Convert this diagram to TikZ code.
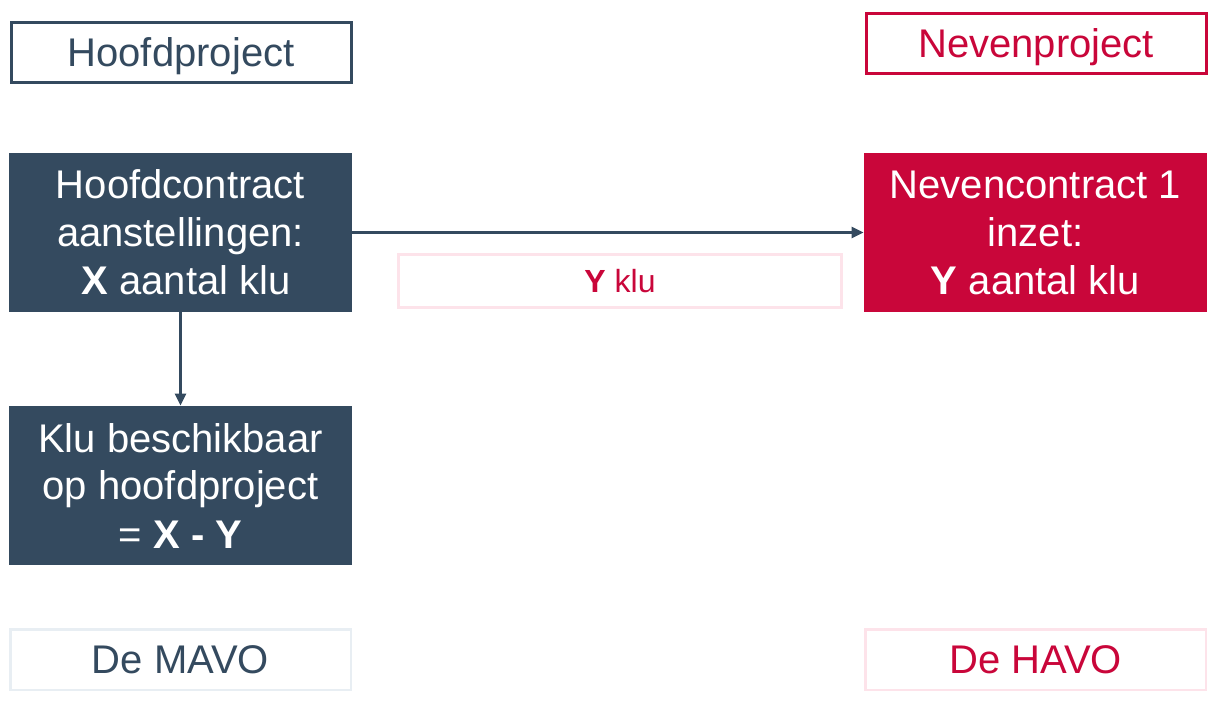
\documentclass[tikz,border=0pt]{standalone}
\usepackage{fontspec}
\setmainfont{Liberation Sans}
\usetikzlibrary{arrows.meta}
\definecolor{dblue}{HTML}{344A5F}
\definecolor{dred}{HTML}{C9063A}
\definecolor{lpink}{HTML}{FDE3EA}
\definecolor{lgray}{HTML}{E8EEF3}
\tikzset{
  big/.style={font=\fontsize{30}{36}\selectfont},
  small/.style={font=\fontsize{24}{29}\selectfont},
  outlinebox/.style={draw, line width=2.25pt, minimum width=255pt, minimum height=45pt, inner sep=0pt, text height=21.5pt, text depth=0pt, big},
  filledbox/.style={minimum width=257.25pt, minimum height=119.25pt, inner sep=0pt, align=center, text=white, big},
  paleframe/.style={draw, line width=2pt, minimum width=255.5pt, minimum height=45.5pt, inner sep=0pt, text height=21.5pt, text depth=0pt, big},
  conn/.style={draw=dblue, line width=2.1pt, -{Triangle[length=9pt,width=8pt]}}
}
\begin{document}
\begin{tikzpicture}[x=0.75pt,y=-0.75pt]
\useasboundingbox[fill=white] (0,0) rectangle (1217,700);
\node[outlinebox, draw=dblue, text=dblue] (hp) at (181,52.5) {Hoofdproject};
\node[outlinebox, draw=dred, text=dred] (np) at (1036,43.5) {Nevenproject};
\node[filledbox, fill=dblue] (hc) at (180.5,232.5) {Hoofdcontract\\aanstellingen:\\\ \textbf{X} aantal klu};
\node[filledbox, fill=dred] (nc) at (1035.5,232.5) {Nevencontract 1\\inzet:\\\textbf{Y} aantal klu};
\node[filledbox, fill=dblue] (kb) at (180.5,485.5) {Klu beschikbaar\\op hoofdproject\\= \textbf{X - Y}};
\node[draw=lpink, line width=2pt, minimum width=332pt, minimum height=39.5pt, inner sep=0pt, text height=17pt, text depth=0pt, text=dred, small] (yk) at (620,281) {\textbf{Y} klu};
\node[paleframe, draw=lgray, text=dblue] (mavo) at (180.5,659.5) {De MAVO};
\node[paleframe, draw=lpink, text=dred] (havo) at (1035.5,659.5) {De HAVO};
\draw[conn] (hc.east) -- (nc.west);
\draw[conn] (hc.south) -- (kb.north);
\end{tikzpicture}
\end{document}
